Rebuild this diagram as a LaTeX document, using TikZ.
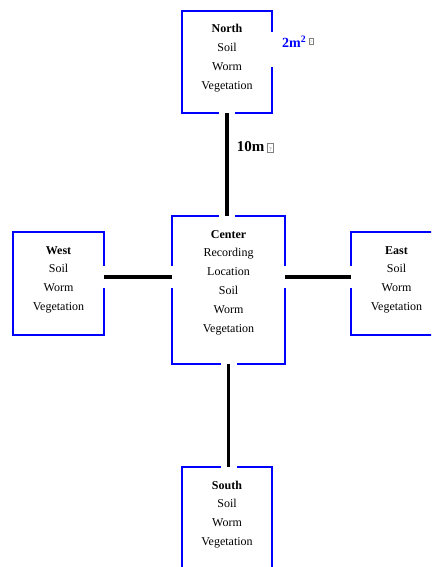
\documentclass[tikz,border=0pt]{standalone}
\usepackage{fontspec}
\setmainfont{Liberation Serif}
\newcommand\qbox[3]{{\setlength\fboxsep{0pt}\setlength\fboxrule{0.5pt}\fcolorbox{gray}{white}{\makebox[#1]{\raisebox{0.5pt}[#2][0pt]{\fontsize{#3}{#3}\selectfont\mdseries\color{gray}?}}}}}
\tikzset{
  zone/.style={draw=blue, line width=2pt, outer sep=0pt, inner xsep=0pt, inner ysep=0pt,
    align=center, text=black, font=\fontsize{12}{18.8}\selectfont},
  link/.style={line width=3.2pt, black,
    preaction={draw=white, line width=#1, shorten <=-1.5pt, shorten >=-1.5pt}},
  link/.default=16pt
}
\begin{document}
\begin{tikzpicture}[x=1pt, y=-1pt]
      \path[use as bounding box, clip] (0,0) rectangle (431,567);
      \draw
        (227,62) node[zone, minimum width=90pt, text height=78.4pt, text depth=23.6pt] (north)
          {\textbf{North}\\Soil\\Worm\\Vegetation}
        (228.5,290) node[zone, minimum width=113pt, text height=116pt, text depth=32pt] (center)
          {\textbf{Center}\\Recording\\Location\\Soil\\Worm\\Vegetation}
        (58.5,283.5) node[zone, minimum width=91pt, text height=78.4pt, text depth=24.6pt] (west)
          {\textbf{West}\\Soil\\Worm\\Vegetation}
        (396.5,283.5) node[zone, minimum width=91pt, text height=78.4pt, text depth=24.6pt] (east)
          {\textbf{East}\\Soil\\Worm\\Vegetation}
        (227,518) node[zone, minimum width=90pt, text height=78.4pt, text depth=23.6pt] (south)
          {\textbf{South}\\Soil\\Worm\\Vegetation};
      \node[anchor=west, fill=white, inner xsep=12pt, inner ysep=6pt, text height=10pt, text depth=13pt,
        text=blue, font=\fontsize{14}{14}\selectfont\bfseries] (area) at (270,49.5)
        {2m\textsuperscript{2}\raisebox{4pt}{\,\qbox{4pt}{5.5pt}{4}}};
      \coordinate (wl) at ([yshift=6.5pt]west.east);
      \coordinate (el) at ([yshift=6.5pt]east.west);
      \begin{scope}
        \draw[link] (north.south) -- (north.south |- center.north)
          node[pos=0.33, right=5pt, font=\fontsize{15}{15}\selectfont\bfseries] (dist) {10m\,\qbox{6pt}{8.5pt}{6}};
        \draw[link] (center.south) -- (center.south |- south.north);
        \draw[link=22pt] (wl) -- (wl -| center.west);
        \draw[link=22pt] (el -| center.east) -- (el);
      \end{scope}
    \end{tikzpicture}
\end{document}
